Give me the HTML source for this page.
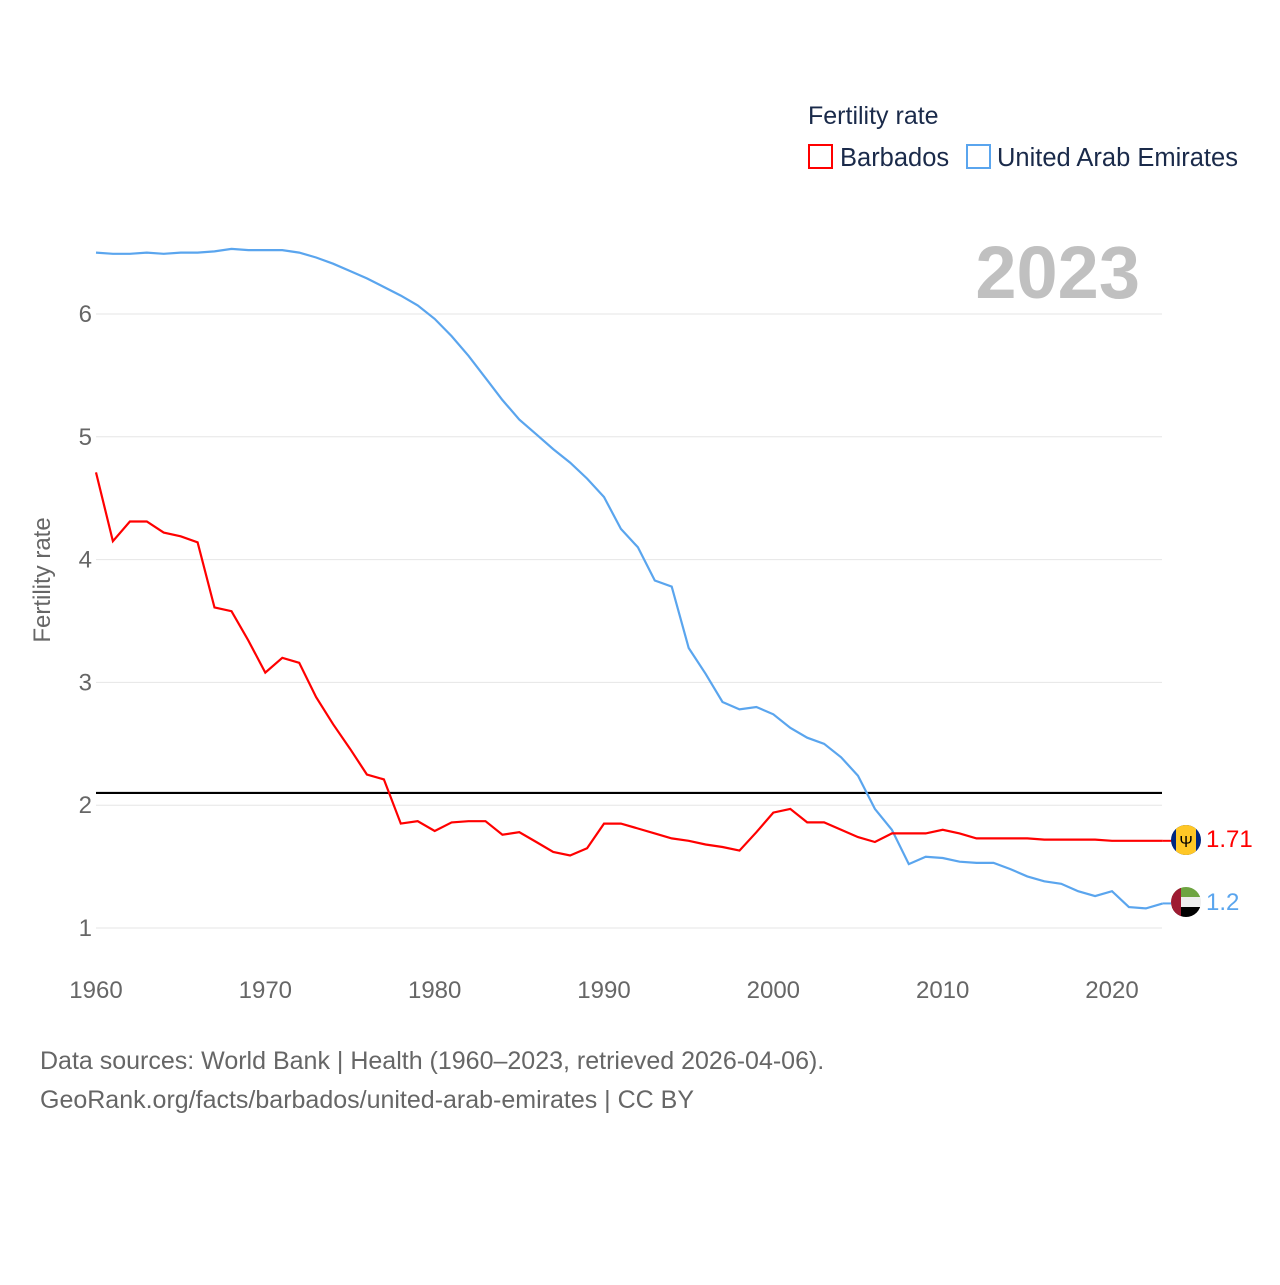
<!DOCTYPE html>
<html><head><meta charset="utf-8"><style>
body{margin:0;background:#fff;font-family:"Liberation Sans",sans-serif}
</style></head><body>
<svg id="chart" width="1280" height="1280" xmlns="http://www.w3.org/2000/svg">
<defs>
<clipPath id="c1"><circle cx="1186" cy="840" r="15"/></clipPath>
<clipPath id="c2"><circle cx="1186" cy="902" r="15"/></clipPath>
</defs>
<g id="grid"></g>
<g id="axes"></g>
<g id="lines"></g>
<text x="1140" y="298" font-size="74" font-weight="bold" fill="#c0c0c0" text-anchor="end">2023</text>
<text x="50" y="580" font-size="24" fill="#666" text-anchor="middle" transform="rotate(-90 50 580)">Fertility rate</text>
<text x="808" y="124" font-size="25" fill="#1a2a4a">Fertility rate</text>
<g><rect x="809" y="145" width="23" height="23" fill="none" stroke="#f00" stroke-width="2"/><text x="840" y="166" font-size="25.5" fill="#1a2a4a">Barbados</text></g>
<g><rect x="967" y="145" width="23" height="23" fill="none" stroke="#5aa5ee" stroke-width="2"/><text x="997" y="166" font-size="25.5" fill="#1a2a4a">United Arab Emirates</text></g>
<g clip-path="url(#c1)"><rect x="1171" y="825" width="30" height="30" fill="#00267f"/><rect x="1176" y="825" width="20" height="30" fill="#ffc726"/><text x="1186" y="847" font-size="16" text-anchor="middle" fill="#000">Ψ</text></g>
<g clip-path="url(#c2)"><rect x="1171" y="887" width="30" height="10" fill="#6ea441"/><rect x="1171" y="897" width="30" height="10" fill="#eee"/><rect x="1171" y="907" width="30" height="10" fill="#000"/><rect x="1171" y="887" width="10" height="30" fill="#9e1b32"/></g>
<text x="1206" y="847" font-size="24" fill="#f00">1.71</text>
<text x="1206" y="910" font-size="24" fill="#5aa5ee">1.2</text>
<text x="40" y="1069" font-size="25" fill="#666">Data sources: World Bank | Health (1960–2023, retrieved 2026-04-06).</text>
<text x="40" y="1108" font-size="25" fill="#666">GeoRank.org/facts/barbados/united-arab-emirates | CC BY</text>
</svg>
<script>
const years=[];for(let y=1960;y<=2023;y++)years.push(y);
const barbados=[4.71,4.15,4.31,4.31,4.22,4.19,4.14,3.61,3.58,3.34,3.08,3.20,3.16,2.88,2.66,2.46,2.25,2.21,1.85,1.87,1.79,1.86,1.87,1.87,1.76,1.78,1.70,1.62,1.59,1.65,1.85,1.85,1.81,1.77,1.73,1.71,1.68,1.66,1.63,1.78,1.94,1.97,1.86,1.86,1.80,1.74,1.70,1.77,1.77,1.77,1.80,1.77,1.73,1.73,1.73,1.73,1.72,1.72,1.72,1.72,1.71,1.71,1.71,1.71];
const uae=[6.50,6.49,6.49,6.50,6.49,6.50,6.50,6.51,6.53,6.52,6.52,6.52,6.50,6.46,6.41,6.35,6.29,6.22,6.15,6.07,5.96,5.82,5.66,5.48,5.30,5.14,5.02,4.90,4.79,4.66,4.51,4.25,4.10,3.83,3.78,3.28,3.07,2.84,2.78,2.80,2.74,2.63,2.55,2.50,2.39,2.24,1.97,1.80,1.52,1.58,1.57,1.54,1.53,1.53,1.48,1.42,1.38,1.36,1.30,1.26,1.30,1.17,1.16,1.20];
const yTicks=[1,2,3,4,5,6];
const xTicks=[1960,1970,1980,1990,2000,2010,2020];
const replacement=2.1;
const NS="http://www.w3.org/2000/svg";
const X=y=>96+(y-1960)*(1016/60);
const Y=v=>928-(v-1)*122.8;
function mk(t,a,p){const e=document.createElementNS(NS,t);for(const k in a)e.setAttribute(k,a[k]);p.appendChild(e);return e;}
const g=document.getElementById('grid'),ax=document.getElementById('axes'),ln=document.getElementById('lines');
yTicks.forEach(v=>{
 const l=mk('line',{x1:96,x2:1162,y1:Y(v),y2:Y(v),stroke:'#e6e6e6','stroke-width':1},g);
 
 
 const t=mk('text',{x:92,y:Y(v)+8,'font-size':24,fill:'#666','text-anchor':'end'},ax);t.textContent=v;
 
 
});
xTicks.forEach(v=>{
 const t=mk('text',{x:X(v),y:998,'font-size':24,fill:'#666','text-anchor':'middle'},ax);t.textContent=v;
 
 
});
const r=mk('line',{x1:96,x2:1162,y1:Y(replacement),y2:Y(replacement),stroke:'#000','stroke-width':2.2},ln);


function path(d,c,n){
 const p=mk('path',{d:d.map((v,i)=>(i?'L':'M')+X(years[i]).toFixed(1)+','+Y(v).toFixed(1)).join(''),fill:'none',stroke:c,'stroke-width':2.2},ln);
 
 
 const last=d.length-1;
 mk('line',{x1:X(years[last]),x2:1172,y1:Y(d[last]),y2:Y(d[last]),stroke:c,'stroke-width':2},ln);
}
path(uae,'#5aa5ee','uae-line');
path(barbados,'#f00','barbados-line');
</script>
</body></html>
